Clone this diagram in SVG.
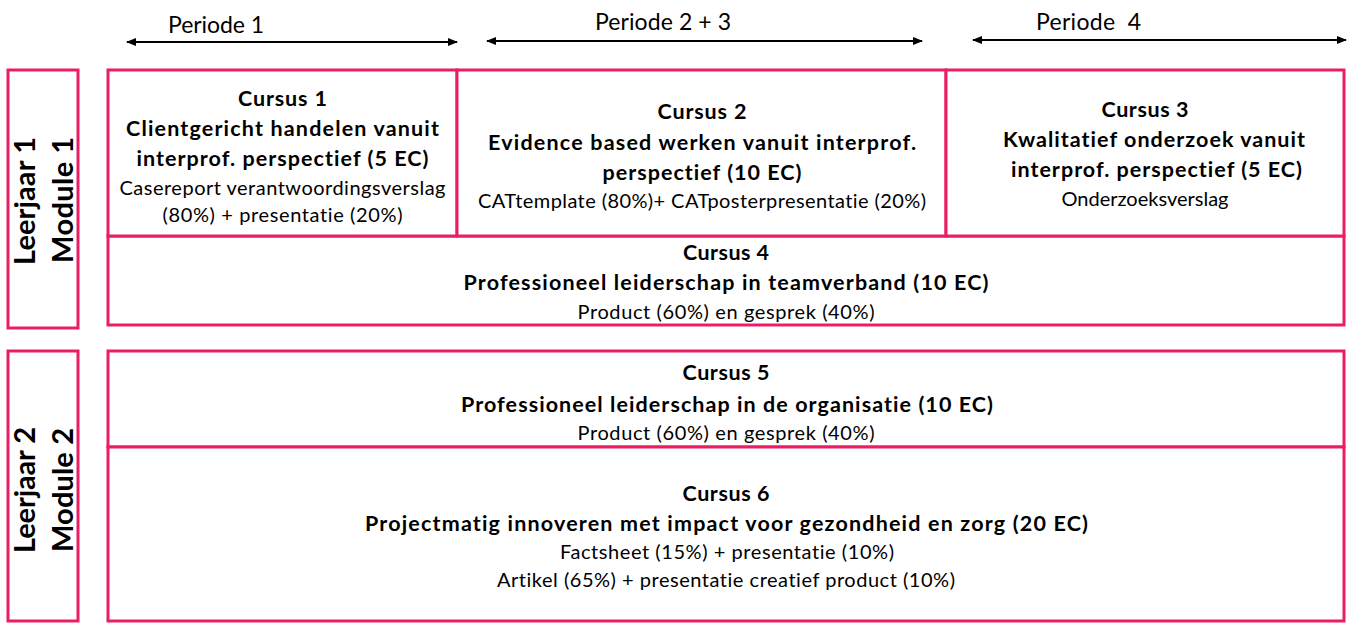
<svg xmlns="http://www.w3.org/2000/svg" width="1352" height="624" viewBox="0 0 1352 624">
<style>
text{font-family:Lato,"Liberation Sans",sans-serif;font-variant-ligatures:none;fill:#000}
.box{fill:#fff;stroke:#EB1E63;stroke-width:3}
.t{font-weight:700;font-size:21.5px;text-anchor:middle}
.d{font-weight:400;font-size:20px;text-anchor:middle}
.p{font-weight:400;font-size:23px}
.s{font-weight:700;font-size:29px;text-anchor:middle}
.arr{stroke:#000;stroke-width:2;fill:none;marker-start:url(#ah);marker-end:url(#ah)}
</style>
<defs>
<marker id="ah" markerUnits="userSpaceOnUse" markerWidth="10" markerHeight="8" refX="9" refY="4" orient="auto-start-reverse">
<path d="M0,0 L10,4 L0,8 z" fill="#000"/>
</marker>
</defs>
<rect width="1352" height="624" fill="#fff"/>

<g id="periods">
<text class="p" x="168" y="33" textLength="96">Periode 1</text>
<text class="p" x="595" y="30" textLength="136">Periode 2 + 3</text>
<text class="p" x="1036" y="30" textLength="105" xml:space="preserve">Periode  4</text>
</g>

<g id="connectors">
<line class="arr" x1="127" y1="42" x2="457" y2="42"/>
<line class="arr" x1="487" y1="41" x2="922" y2="41"/>
<line class="arr" x1="973" y1="40" x2="1346" y2="40"/>
</g>

<g id="leerjaar1">
<rect class="box" x="8" y="70" width="70" height="258"/>
<text class="s" transform="translate(35,201) rotate(-90)" textLength="128">Leerjaar 1</text>
<text class="s" transform="translate(73,200) rotate(-90)" textLength="126">Module 1</text>
</g>

<g id="leerjaar2">
<rect class="box" x="8" y="351" width="70" height="270"/>
<text class="s" transform="translate(35,490) rotate(-90)" textLength="126">Leerjaar 2</text>
<text class="s" transform="translate(73,490) rotate(-90)" textLength="124">Module 2</text>
</g>

<g id="cursus4">
<rect class="box" x="108" y="236" width="1236" height="89"/>
<text class="t" x="726" y="260" textLength="86">Cursus 4</text>
<text class="t" x="726" y="290" textLength="525">Professioneel leiderschap in teamverband (10 EC)</text>
<text class="d" x="726" y="319" textLength="297">Product (60%) en gesprek (40%)</text>
</g>

<g id="cursus1">
<rect class="box" x="108" y="70" width="349" height="166"/>
<text class="t" x="282.5" y="106" textLength="89">Cursus 1</text>
<text class="t" x="282.5" y="136" textLength="313">Clientgericht handelen vanuit</text>
<text class="t" x="282.5" y="166" textLength="292">interprof. perspectief (5 EC)</text>
<text class="d" x="282.5" y="195" textLength="326">Casereport verantwoordingsverslag</text>
<text class="d" x="282.5" y="222" textLength="240">(80%) + presentatie (20%)</text>
</g>

<g id="cursus2">
<rect class="box" x="457" y="70" width="489" height="166"/>
<text class="t" x="702" y="119" textLength="89">Cursus 2</text>
<text class="t" x="702" y="150" textLength="428">Evidence based werken vanuit interprof.</text>
<text class="t" x="702" y="180" textLength="199">perspectief (10 EC)</text>
<text class="d" x="702" y="208" textLength="448">CATtemplate (80%)+ CATposterpresentatie (20%)</text>
</g>

<g id="cursus3">
<rect class="box" x="946" y="70" width="398" height="166"/>
<text class="t" x="1145" y="117" textLength="87">Cursus 3</text>
<text class="t" x="1154" y="147" textLength="302">Kwalitatief onderzoek vanuit</text>
<text class="t" x="1156.5" y="177" textLength="291">interprof. perspectief (5 EC)</text>
<text class="d" x="1145" y="206" textLength="167">Onderzoeksverslag</text>
</g>

<g id="cursus5">
<rect class="box" x="108" y="351" width="1236" height="96"/>
<text class="t" x="726" y="380" textLength="87">Cursus 5</text>
<text class="t" x="727" y="412" textLength="532">Professioneel leiderschap in de organisatie (10 EC)</text>
<text class="d" x="726" y="440" textLength="297">Product (60%) en gesprek (40%)</text>
</g>

<g id="cursus6">
<rect class="box" x="108" y="447" width="1236" height="174"/>
<text class="t" x="726" y="501" textLength="87">Cursus 6</text>
<text class="t" x="726.5" y="531" textLength="723">Projectmatig innoveren met impact voor gezondheid en zorg (20 EC)</text>
<text class="d" x="727" y="559" textLength="334">Factsheet (15%) + presentatie (10%)</text>
<text class="d" x="726" y="587" textLength="458">Artikel (65%) + presentatie creatief product (10%)</text>
</g>
</svg>
